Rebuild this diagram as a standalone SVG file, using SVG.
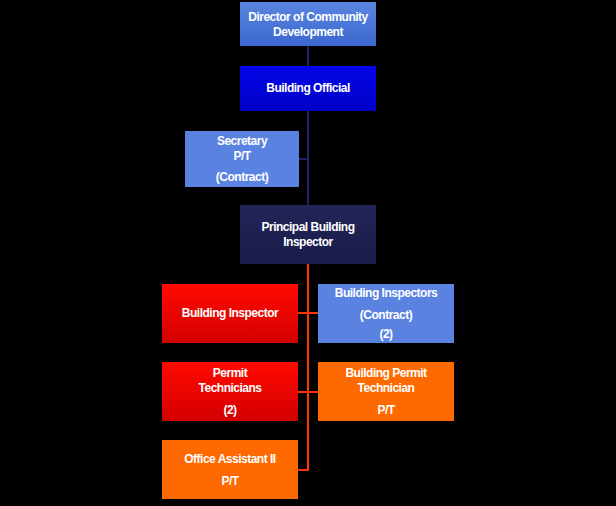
<svg xmlns="http://www.w3.org/2000/svg" width="616" height="506" viewBox="0 0 616 506">
<defs>
<linearGradient id="gDir" x1="0" y1="0" x2="0" y2="1"><stop offset="0" stop-color="#5a86e0"/><stop offset="1" stop-color="#3b67cf"/></linearGradient>
<linearGradient id="gOff" x1="0" y1="0" x2="0" y2="1"><stop offset="0" stop-color="#0505e8"/><stop offset="1" stop-color="#0000c8"/></linearGradient>
<linearGradient id="gPri" x1="0" y1="0" x2="0" y2="1"><stop offset="0" stop-color="#222558"/><stop offset="1" stop-color="#1a1c48"/></linearGradient>
<linearGradient id="gRed" x1="0" y1="0" x2="0" y2="1"><stop offset="0" stop-color="#ff0a00"/><stop offset="1" stop-color="#d20000"/></linearGradient>
<style>
.t{font-family:"Liberation Sans Narrow","Liberation Sans",Arial,sans-serif;font-weight:bold;font-size:12px;letter-spacing:-0.5px;fill:#ffffff;text-anchor:middle}
.lb{fill:#5a82e0}
.or{fill:#ff6a00}
.bl{stroke:#1c2466;stroke-width:2;fill:none}
.rd{stroke:#ff3300;stroke-width:2;fill:none}
</style>
</defs>
<rect width="616" height="506" fill="#000000"/>
<g id="connectors">
<path class="bl" d="M308 46V205M299 159H308"/>
<path class="rd" d="M308 264V470H298M298 313H318M298 392H318"/>
</g>
<g id="director"><rect x="240" y="2" width="136" height="44" fill="url(#gDir)"/><text class="t" x="308" y="21">Director of Community</text><text class="t" x="308" y="36">Development</text></g>
<g id="building-official"><rect x="240" y="66" width="136" height="45" fill="url(#gOff)"/><text class="t" x="308" y="92">Building Official</text></g>
<g id="secretary"><rect class="lb" x="185" y="131" width="114" height="56"/><text class="t" x="242" y="145">Secretary</text><text class="t" x="242" y="160">P/T</text><text class="t" x="242" y="181">(Contract)</text></g>
<g id="principal"><rect x="240" y="205" width="136" height="59" fill="url(#gPri)"/><text class="t" x="308" y="231">Principal Building</text><text class="t" x="308" y="246">Inspector</text></g>
<g id="building-inspector"><rect x="162" y="284" width="136" height="59" fill="url(#gRed)"/><text class="t" x="230" y="317">Building Inspector</text></g>
<g id="building-inspectors-contract"><rect class="lb" x="318" y="284" width="136" height="59"/><text class="t" x="386" y="297">Building Inspectors</text><text class="t" x="386" y="319">(Contract)</text><text class="t" x="386" y="338">(2)</text></g>
<g id="permit-technicians"><rect x="162" y="362" width="136" height="59" fill="url(#gRed)"/><text class="t" x="230" y="377">Permit</text><text class="t" x="230" y="392">Technicians</text><text class="t" x="230" y="414">(2)</text></g>
<g id="building-permit-technician"><rect class="or" x="318" y="362" width="136" height="59"/><text class="t" x="386" y="377">Building Permit</text><text class="t" x="386" y="392">Technician</text><text class="t" x="386" y="414">P/T</text></g>
<g id="office-assistant"><rect class="or" x="162" y="440" width="136" height="59"/><text class="t" x="230" y="463">Office Assistant II</text><text class="t" x="230" y="485">P/T</text></g>
</svg>
